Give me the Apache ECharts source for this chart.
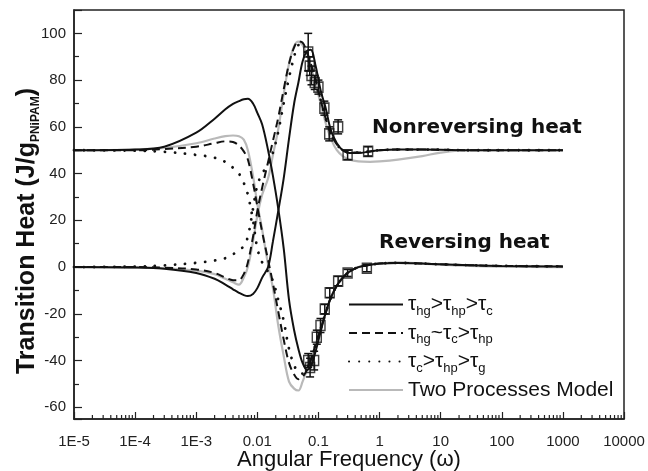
<!DOCTYPE html>
<html><head><meta charset="utf-8">
<script src="https://cdn.jsdelivr.net/npm/echarts@6/dist/echarts.min.js"></script>
<style>html,body{margin:0;padding:0;background:#fff}#c{width:648px;height:471px}</style>
</head><body><div id="c"></div>
<script>
// ---- data ----
const omega = [1e-5, 1e-4, 3e-4, 1e-3, 2e-3, 3e-3, 4e-3, 5e-3, 6e-3, 7e-3, 8.5e-3, 0.01, 0.012, 0.015, 0.018, 0.022, 0.027, 0.033, 0.04, 0.047, 0.055, 0.065, 0.075, 0.09, 0.11, 0.13, 0.16, 0.2, 0.25, 0.32, 0.45, 0.7, 1, 2, 5, 10, 30, 100, 1000];

const solidFromNonrev  = [50, 50.3, 51.5, 57.5, 63.5, 67.5, 69.8, 71, 71.8, 72, 70, 66, 61, 50, 39, 25, 8, -14, -27, -35, -41, -44, -42.5, -36, -27, -20, -13, -8, -4.5, -2, 0, 1, 1.5, 1.8, 1.5, 1.2, 0.8, 0.5, 0.3];
const solidFromRev     = [0, -0.2, -0.7, -2.5, -5, -7.5, -9.5, -11, -12, -12.4, -11.5, -9, -4.5, 0, 11, 24, 38, 55, 70, 79, 88, 92.5, 93, 86, 75, 68.5, 58.5, 53, 50, 48.8, 48.8, 49.5, 50, 50.3, 50.3, 50.2, 50, 50, 50];
const dashedFromNonrev = [50, 50, 50.5, 51.5, 53, 53.8, 53.5, 52, 49.5, 46, 36, 26, 15, 3, -7, -19, -31, -41, -46, -48, -47, -44, -40, -33, -26, -20, -13, -8, -4.5, -2, 0, 1, 1.5, 1.8, 1.5, 1.2, 0.8, 0.5, 0.3];
const dashedFromRev    = [0, 0, -0.3, -1, -2.5, -4.5, -5.6, -5.5, -3, 2, 13, 24, 34, 45, 54, 64, 76, 87, 94, 96.5, 96, 92, 87, 80, 71, 64, 57, 52.5, 50, 49, 49, 49.5, 50, 50.3, 50.3, 50.2, 50, 50, 50];
const dottedFromNonrev = [50, 49.8, 49.3, 48, 46.8, 45, 42.5, 40, 36, 31, 20, 8, 2, -2, -6, -14, -23, -35, -42, -45, -45.6, -43, -40, -33, -26, -20, -13, -8, -4.5, -2, 0, 1, 1.5, 1.8, 1.5, 1.2, 0.8, 0.5, 0.3];
const dottedFromRev    = [0, 0.2, 0.7, 1.8, 2.8, 3.8, 5.5, 7.2, 9, 13, 25, 35, 40, 44, 49, 58, 70, 81, 90, 95, 94, 90, 86, 79, 71, 64, 57, 52.5, 50, 49, 49, 49.5, 50, 50.3, 50.3, 50.2, 50, 50, 50];
const grayFromNonrev   = [50, 50.3, 51, 53, 55, 56, 56.3, 56, 54.5, 50, 39, 27, 16, 1, -9, -25, -38, -49, -52, -52.8, -49, -44, -39.5, -33, -26, -20, -13, -8, -4.5, -2, 0, 1, 1.5, 2, 1.5, 1, 0.5, 0.2, 0];
const grayFromRev      = [0, -0.2, -0.5, -1.5, -3, -5, -6.5, -7.5, -4.5, 0, 11, 22, 31, 38, 48, 59, 74, 87, 94.5, 96.5, 95, 91, 86, 78, 69.5, 62, 55, 50, 47.5, 46, 45.2, 45, 45.2, 46, 47.5, 49, 50, 50, 50];

const nonrevOmega = [0.068, 0.072, 0.077, 0.087, 0.1, 0.125, 0.15, 0.21, 0.3, 0.65];
const nonrevHeat  = [92, 86, 82, 79, 77, 68, 57, 60, 48, 49.5];
const nonrevErr   = [8, 4, 4, 3, 3, 3, 3, 3, 2, 2];
const revOmega    = [0.068, 0.073, 0.085, 0.094, 0.108, 0.127, 0.153, 0.21, 0.3, 0.62];
const revHeat     = [-40, -43, -40, -30, -25, -18, -11, -6, -2.5, -0.5];
const revErr      = [3, 4, 4, 3, 3, 2, 2, 2, 1.5, 1.5];

const xTickValues = [1e-5, 1e-4, 1e-3, 1e-2, 0.1, 1, 10, 100, 1000, 10000];
const xTickLabels = ['1E-5', '1E-4', '1E-3', '0.01', '0.1', '1', '10', '100', '1000', '10000'];
const seriesNames = ['τhg>τhp>τc', 'τhg~τc>τhp', 'τc>τhp>τg', 'Two Processes Model'];
const legendRich = {
  'τhg>τhp>τc': '{t|τ}{s|hg}{t|>τ}{s|hp}{t|>τ}{s|c}',
  'τhg~τc>τhp': '{t|τ}{s|hg}{t|~τ}{s|c}{t|>τ}{s|hp}',
  'τc>τhp>τg': '{t|τ}{s|c}{t|>τ}{s|hp}{t|>τ}{s|g}',
  'Two Processes Model': '{t|Two Processes Model}'
};

// ---- helpers ----
const Y_MIN = -65, Y_MAX = 110;
const pairs = (xs, ys) => xs.map((x, i) => [x, ys[i]]);
const minorTickValues = [];
for (let d = 0; d < xTickValues.length - 1; d++) {
  for (let m = 2; m <= 9; m++) minorTickValues.push(xTickValues[d] * m);
}
const FONT = '"Liberation Sans", Arial, sans-serif';

function lineSeries(name, ys, style) {
  return {
    type: 'line', name, data: pairs(omega, ys), symbol: 'none', showSymbol: false, smooth: 0.35,
    lineStyle: style, itemStyle: { color: style.color }, silent: true, z: style.z || 3
  };
}
const grayStyle = { color: '#b9b9b9', width: 2.2, type: 'solid', z: 2 };
const solidStyle = { color: '#111', width: 2, type: 'solid', z: 4 };
const dashStyle = { color: '#111', width: 2, type: [8, 5], z: 4 };
const dotStyle = { color: '#111', width: 2.8, type: [0.1, 10], cap: 'round', z: 4 };

function errSeries(xs, ys, es) {
  return {
    type: 'custom', silent: true, z: 6,
    data: xs.map((x, i) => [x, ys[i] - es[i], ys[i] + es[i]]),
    encode: { x: 0, y: [1, 2] },
    renderItem: (params, api) => {
      const x = api.value(0);
      const lo = api.coord([x, api.value(1)]);
      const hi = api.coord([x, api.value(2)]);
      const w = 4;
      const st = { stroke: '#111', lineWidth: 1.5 };
      return { type: 'group', children: [
        { type: 'line', shape: { x1: lo[0], y1: lo[1], x2: hi[0], y2: hi[1] }, style: st },
        { type: 'line', shape: { x1: lo[0] - w, y1: lo[1], x2: lo[0] + w, y2: lo[1] }, style: st },
        { type: 'line', shape: { x1: hi[0] - w, y1: hi[1], x2: hi[0] + w, y2: hi[1] }, style: st }
      ]};
    }
  };
}
function pointSeries(xs, ys) {
  return {
    type: 'scatter', data: pairs(xs, ys), symbol: 'rect', symbolSize: [9, 10], silent: true, z: 7,
    itemStyle: { color: 'rgba(255,255,255,0)', borderColor: '#111', borderWidth: 1.5 }
  };
}

const chart = echarts.init(document.getElementById('c'), null, { renderer: 'canvas' });
chart.setOption({
  animation: false,
  backgroundColor: '#fff',
  grid: { left: 74, right: 24, top: 10, bottom: 52, show: true, borderColor: '#222', borderWidth: 1.5,
          outerBoundsMode: 'none', containLabel: false },
  xAxis: {
    type: 'log', logBase: 10, min: 1e-5, max: 1e4, splitNumber: 9,
    axisLine: { show: true, onZero: false, lineStyle: { color: '#222', width: 1.5 } },
    axisTick: { show: true, inside: true, length: 7, lineStyle: { color: '#222', width: 1.2 } },
    axisLabel: {
      margin: 15, fontSize: 15, color: '#222', fontFamily: FONT, hideOverlap: false,
      formatter: v => { const i = Math.round(Math.log10(v)) + 5; return xTickLabels[i] || ''; }
    },
    splitLine: { show: false },
    name: 'Angular Frequency (ω)', nameLocation: 'middle', nameGap: 30, nameMoveOverlap: false,
    nameTextStyle: { fontSize: 22, color: '#111', fontFamily: FONT }
  },
  yAxis: {
    type: 'value', min: Y_MIN, max: Y_MAX, splitNumber: 8,
    axisLine: { show: true, onZero: false, lineStyle: { color: '#222', width: 1.5 } },
    axisTick: { show: true, inside: true, length: 8, lineStyle: { color: '#222', width: 1.2 } },
    minorTick: { show: true, splitNumber: 2, length: 5, lineStyle: { color: '#222', width: 1.2 } },
    axisLabel: {
      margin: 8, fontSize: 15, color: '#222', fontFamily: FONT,
      formatter: v => (Math.round(v) % 20 === 0 && v >= -60 && v <= 100) ? String(v) : ''
    },
    splitLine: { show: false }
  },
  legend: {
    orient: 'vertical', left: 343, top: 289, itemWidth: 54, itemHeight: 14, itemGap: 5,
    selectedMode: false, data: seriesNames,
    itemStyle: { color: 'rgba(0,0,0,0)', borderColor: 'rgba(0,0,0,0)', borderWidth: 0, opacity: 0 },
    formatter: n => legendRich[n],
    textStyle: {
      color: '#111', fontFamily: FONT, fontSize: 21,
      rich: {
        t: { fontSize: 21, lineHeight: 26, fontFamily: FONT, color: '#111' },
        s: { fontSize: 13, lineHeight: 12, verticalAlign: 'bottom', fontFamily: FONT, color: '#111' }
      }
    }
  },
  graphic: [
    { type: 'text', x: 372, y: 128, silent: true,
      style: { text: 'Nonreversing heat', fill: '#111', font: 'bold 20px "DejaVu Sans", sans-serif', align: 'left', verticalAlign: 'middle' } },
    { type: 'text', x: 379, y: 243, silent: true,
      style: { text: 'Reversing heat', fill: '#111', font: 'bold 20px "DejaVu Sans", sans-serif', align: 'left', verticalAlign: 'middle' } },
    { type: 'text', x: 27, y: 231, rotation: Math.PI / 2, silent: true,
      style: { text: '{b|Transition Heat (J/g}{s|PNiPAM}{b|)}', align: 'center', verticalAlign: 'middle',
        rich: {
          b: { fontSize: 25, fontWeight: 'bold', fontFamily: FONT, fill: '#111', lineHeight: 30 },
          s: { fontSize: 12, fontWeight: 'bold', fontFamily: FONT, fill: '#111', lineHeight: 14, verticalAlign: 'bottom' }
        } } }
  ],
  series: [
    lineSeries(seriesNames[3], grayFromNonrev, grayStyle),
    lineSeries(seriesNames[3], grayFromRev, grayStyle),
    lineSeries(seriesNames[0], solidFromNonrev, solidStyle),
    lineSeries(seriesNames[0], solidFromRev, solidStyle),
    lineSeries(seriesNames[1], dashedFromNonrev, dashStyle),
    lineSeries(seriesNames[1], dashedFromRev, dashStyle),
    lineSeries(seriesNames[2], dottedFromNonrev, dotStyle),
    lineSeries(seriesNames[2], dottedFromRev, dotStyle),
    errSeries(nonrevOmega, nonrevHeat, nonrevErr),
    errSeries(revOmega, revHeat, revErr),
    pointSeries(nonrevOmega, nonrevHeat),
    pointSeries(revOmega, revHeat),
    {
      type: 'custom', silent: true, z: 8, clip: false,
      data: minorTickValues.map(v => [v, Y_MIN]),
      renderItem: (params, api) => {
        const p = api.coord([api.value(0), Y_MIN]);
        return { type: 'line', shape: { x1: p[0], y1: p[1], x2: p[0], y2: p[1] - 4 }, style: { stroke: '#222', lineWidth: 1.2 } };
      }
    }
  ]
});
</script>
</body></html>
